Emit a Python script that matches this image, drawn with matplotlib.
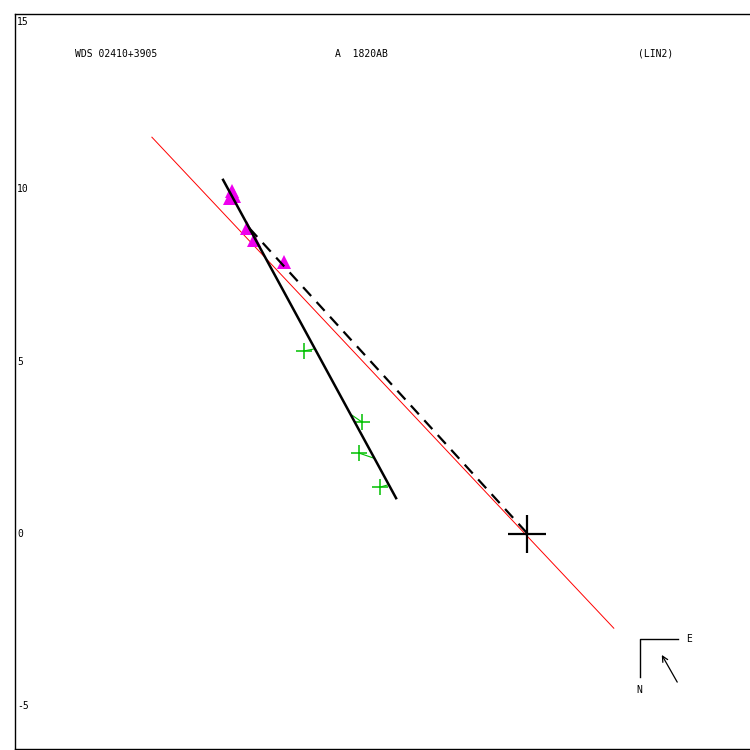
import matplotlib
matplotlib.use('Agg')
import matplotlib.pyplot as plt

# Header texts
star_id = 'WDS 02410+3905'
pair_id = 'A  1820AB'
ref_code = '(LIN2)'

# y axis labels
ytick_vals = [15, 10, 5, 0, -5]

# Measures: magenta triangles
tri_x = [-8.60, -8.54, -8.65, -8.16, -7.96, -7.08]
tri_y = [9.96, 9.81, 9.75, 8.87, 8.52, 7.90]

# Measures: green crosses and where they fall on the fitted line
cross_x = [-6.49, -4.81, -4.90, -4.29]
cross_y = [5.31, 3.24, 2.34, 1.35]
cross_fit_x = [-6.23, -5.10, -4.46, -4.08]
cross_fit_y = [5.36, 3.44, 2.19, 1.41]

# Linear fit (solid), link to primary (dashed), red reference line
fit_x = [-8.85, -3.82]
fit_y = [10.28, 1.03]
dash_x = [-8.09, 0.0]
dash_y = [8.88, 0.0]
red_x = [-10.92, 2.51]
red_y = [11.52, -2.75]

plt.rcParams['font.family'] = ['DejaVu Sans Mono']

fig = plt.figure(figsize=(7.5, 7.5), dpi=100)
ax = fig.add_axes([15 / 750, 1 / 750, 735 / 750, 735 / 750])
ax.set_xlim(-14.90, 6.47)
ax.set_ylim(-6.26, 15.10)

green = '#00c000'

# red line
ax.plot(red_x, red_y, color='red', lw=0.7, zorder=2)

# residuals for crosses
for x0, y0, x1, y1 in zip(cross_x, cross_y, cross_fit_x, cross_fit_y):
    ax.plot([x0, x1], [y0, y1], color=green, lw=0.8, zorder=3)

# triangles
ax.plot(tri_x, tri_y, linestyle='none', marker='^', ms=9.5,
        color='#ee00ee', markeredgewidth=0, zorder=3)

# crosses
ax.plot(cross_x, cross_y, linestyle='none', marker='+', ms=11,
        color=green, markeredgewidth=1.1, zorder=3)

# fitted line and dashed link
ax.plot(fit_x, fit_y, color='black', lw=1.8, zorder=4)
ax.plot(dash_x, dash_y, color='black', lw=1.6,
        linestyle=(0, (8.6 / 1.6, 5.8 / 1.6)), zorder=4)

# primary star
ax.plot([0], [0], marker='+', ms=27, color='black', markeredgewidth=1.6, zorder=5)

# header
ax.text(0.0816, 0.9456, star_id, transform=ax.transAxes, fontsize=7, va='center')
ax.text(0.435, 0.9456, pair_id, transform=ax.transAxes, fontsize=7, va='center')
ax.text(0.848, 0.9456, ref_code, transform=ax.transAxes, fontsize=7, va='center')

# y labels drawn inside the frame
ax.set_xticks([])
ax.set_yticks([])
for v in ytick_vals:
    if v == ytick_vals[0]:
        ax.text(0.003, 0.996, str(v), transform=ax.transAxes, fontsize=7,
                va='top', ha='left')
    else:
        ax.text(0.003, v, str(v), transform=ax.get_yaxis_transform(),
                fontsize=7, va='center', ha='left')

# compass
ax.plot([0.902, 0.850, 0.850], [0.150, 0.150, 0.098], color='black', lw=1.0,
        transform=ax.transAxes)
ax.text(0.913, 0.150, 'E', transform=ax.transAxes, fontsize=7, va='center')
ax.text(0.846, 0.080, 'N', transform=ax.transAxes, fontsize=7, va='center')
ax.annotate('', xy=(0.880, 0.128), xytext=(0.901, 0.091),
            xycoords='axes fraction', textcoords='axes fraction',
            arrowprops=dict(arrowstyle='->', color='black', lw=0.9,
                            shrinkA=0, shrinkB=0))

for side in ['left', 'top', 'bottom']:
    ax.spines[side].set_linewidth(1.0)
ax.spines['right'].set_visible(False)

plt.savefig('out.png', dpi=100)
